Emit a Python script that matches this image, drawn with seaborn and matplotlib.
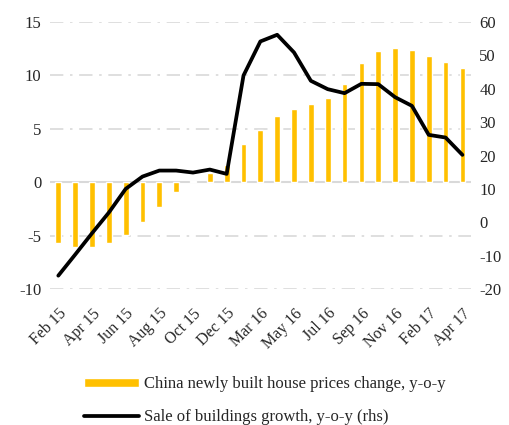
import pandas as pd
import seaborn as sns
import matplotlib.pyplot as plt

months = ["Feb 15", "Mar 15", "Apr 15", "May 15", "Jun 15", "Jul 15", "Aug 15",
          "Sep 15", "Oct 15", "Nov 15", "Dec 15", "Feb 16", "Mar 16", "Apr 16",
          "May 16", "Jun 16", "Jul 16", "Aug 16", "Sep 16", "Oct 16", "Nov 16",
          "Dec 16", "Feb 17", "Mar 17", "Apr 17"]
house_prices = [-5.7, -6.1, -6.1, -5.7, -4.9, -3.7, -2.3, -0.9, 0.1, 0.9, 1.6,
                3.6, 4.9, 6.2, 6.9, 7.3, 7.9, 9.2, 11.2, 12.3, 12.6, 12.4,
                11.8, 11.3, 10.7]
sales_growth = [-16.0, -9.7, -3.3, 2.9, 10.0, 13.7, 15.5, 15.5, 14.9, 15.8, 14.5,
                44.0, 54.2, 56.2, 50.9, 42.4, 39.9, 38.7, 41.5, 41.4, 37.5, 34.9,
                26.2, 25.4, 20.2]

df = pd.DataFrame({"month": months, "prices": house_prices, "sales": sales_growth})
df["idx"] = range(len(df))

sns.set_style("white")
plt.rcParams["font.family"] = ["Liberation Serif", "DejaVu Serif"]
plt.rcParams["font.size"] = 12
plt.rcParams["axes.unicode_minus"] = False

fig = plt.figure(figsize=(5.09, 4.25), dpi=100)
ax = fig.add_axes([0.098, 0.32, 0.827, 0.628])

sns.barplot(data=df, x="idx", y="prices", color="#FFC000", saturation=1,
            width=0.34, ax=ax, label="China newly built house prices change, y-o-y")
ax.set_xlim(-0.5, len(df) - 0.5)
ax.set_ylim(-10, 15)
ax.set_yticks([-10, -5, 0, 5, 10, 15])
ax.set_xticks(df["idx"][::2])
ax.set_xticklabels(df["month"][::2], rotation=45, ha="right", rotation_mode="anchor")
ax.set_xlabel("")
ax.set_ylabel("")
for y in [-10, -5, 5, 10, 15]:
    ax.axhline(y, color="#D9D9D9", lw=1.2, ls=(0, (8, 4, 1.5, 4)), zorder=0)
ax.axhline(0, color="#D9D9D9", lw=1.5, zorder=0)

ax2 = ax.twinx()
sns.lineplot(data=df, x="idx", y="sales", color="black", lw=2.7, ax=ax2,
             label="Sale of buildings growth, y-o-y (rhs)", legend=False)
ax2.set_ylim(-20, 60)
ax2.set_yticks(range(-20, 61, 10))
ax2.set_ylabel("")
ax2.set_xlim(-0.5, len(df) - 0.5)

for a in (ax, ax2):
    for s in a.spines.values():
        s.set_visible(False)
    a.tick_params(length=0, pad=6, labelsize=12, colors="#262626")
ax.tick_params(axis="x", pad=12, labelsize=11.5)

h1, l1 = ax.get_legend_handles_labels()
h2, l2 = ax2.get_legend_handles_labels()
if ax.get_legend() is not None:
    ax.get_legend().remove()
fig.legend(h1 + h2, l1 + l2, loc="lower left", bbox_to_anchor=(0.135, -0.035),
           frameon=False, handlelength=3.3, handleheight=0.5, labelspacing=1.0,
           handletextpad=0.3, fontsize=12)

fig.savefig("out.png", dpi=100)
